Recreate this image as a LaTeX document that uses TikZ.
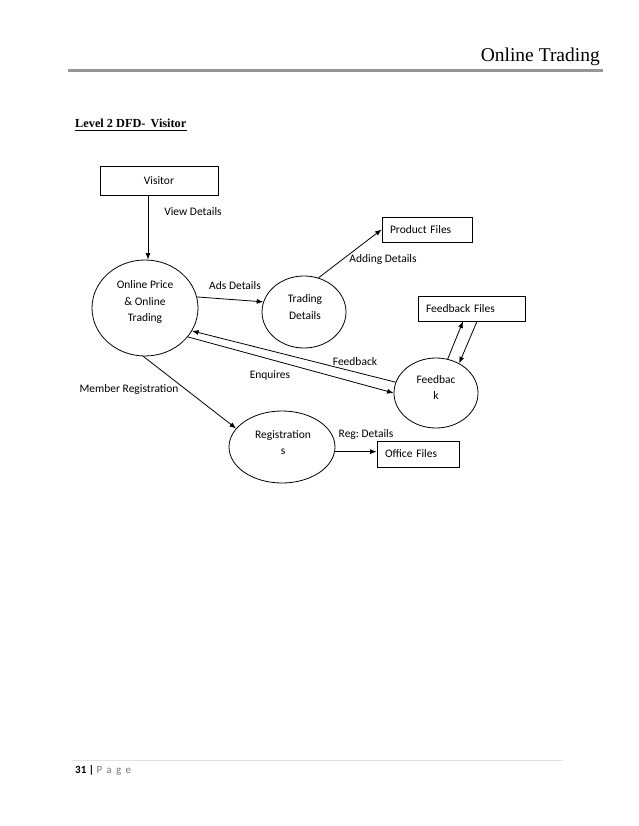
\documentclass[tikz,border=0pt]{standalone}
\usepackage{fontspec}
\setmainfont{Carlito}
\newfontfamily\serifhead{Liberation Serif}
\usetikzlibrary{shapes.geometric,arrows.meta,calc}
\definecolor{rulegray}{RGB}{150,150,150}
\definecolor{footgray}{RGB}{225,225,225}
\definecolor{pagegray}{RGB}{120,120,120}
\frenchspacing
\begin{document}
\begin{tikzpicture}[x=1pt,y=-1pt,
  lbl/.style={font=\fontsize{11.5}{16.5}\selectfont, inner sep=0pt},
  proc/.style={draw, ellipse, line width=0.8pt, inner sep=0pt},
  store/.style={draw, rectangle, line width=0.8pt, inner ysep=0pt, inner xsep=8pt, align=left, font=\fontsize{11.5}{14}\selectfont},
  arr/.style={line width=0.8pt, -{Latex[length=6.5pt,width=5pt]}}]
\useasboundingbox (0,0) rectangle (638,826);
\fill[white] (0,0) rectangle (638,826);
% header
\node[font=\serifhead\fontsize{19.5}{21}\selectfont, anchor=base east, inner sep=0pt] (hdr) at (600,62) {Online Trading};
\draw[rulegray, line width=3pt] (68,71) -- (603,71);
\node[font=\serifhead\bfseries\fontsize{12.3}{14}\selectfont, anchor=base west, inner sep=0pt] (ttl) at (75,128) {Level 2 DFD-\hspace{5pt}Visitor};
\draw[line width=0.8pt] ([yshift=-2.5pt]ttl.base west) -- ([yshift=-2.5pt]ttl.base east);
% processes
\node[proc, minimum width=106, minimum height=96] (op) at (145,308) {};
\node[lbl, align=center] (opt) at (145,302) {Online Price\\\& Online\\Trading};
\node[proc, minimum width=84, minimum height=72] (td) at (304,312) {};
\node[lbl, align=center] (tdt) at (305,307) {Trading\\Details};
\node[proc, minimum width=84, minimum height=70] (fb) at (436,393) {};
\node[lbl, align=center] (fbt) at (436,387.5) {Feedbac\\k};
\node[proc, minimum width=106, minimum height=72] (reg) at (282,447) {};
\node[lbl, align=center] (regt) at (283,442.5) {Registration\\s};
% stores / entities
\node[store, text width=102, minimum height=29, align=center] (vis) at (159,180.5) {Visitor};
\node[store, text width=74, minimum height=25] (pf) at (427,229.5) {Product Files};
\node[store, text width=91, minimum height=25] (ff) at (471.5,308.5) {Feedback Files};
\node[store, text width=66, minimum height=26] (of) at (418,454) {Office Files};
% labels
\node[lbl] (l1) at (193,212) {View Details};
\node[lbl] (l2) at (235,286) {Ads Details};
\node[lbl] (l3) at (383,259) {Adding Details};
\node[lbl] (l4) at (355,362) {Feedback};
\node[lbl] (l5) at (270,375) {Enquires};
\node[lbl] (l6) at (129,389) {Member Registration};
\node[lbl] (l7) at (366,434) {Reg: Details};
% connectors
\draw[arr] ([xshift=-11pt]vis.south) -- ([xshift=-11pt]vis.south |- op.north);
\draw[arr] (op.12) -- (td.166);
\draw[arr] (td.67) -- (pf.west);
\draw[arr] (fb.165) -- (op.-26);
\draw[arr] (op.-34) -- (fb.180);
\draw[arr] (op.-92) -- (reg.158);
\draw[arr] (fb.71) -- ([xshift=-8.5pt]ff.south);
\draw[arr] ([xshift=5.5pt]ff.south) -- (fb.52);
\draw[arr] (reg.-5) -- (reg.-5 -| of.west);
% footer
\draw[footgray, line width=0.8pt] (72,760) -- (563,760);
\node[font=\fontsize{11}{12}\selectfont, anchor=base west, inner sep=0pt] (ftr) at (75,773) {\textbf{31 |} \textcolor{pagegray}{\addfontfeature{LetterSpace=40}Page}};
\end{tikzpicture}
\end{document}
